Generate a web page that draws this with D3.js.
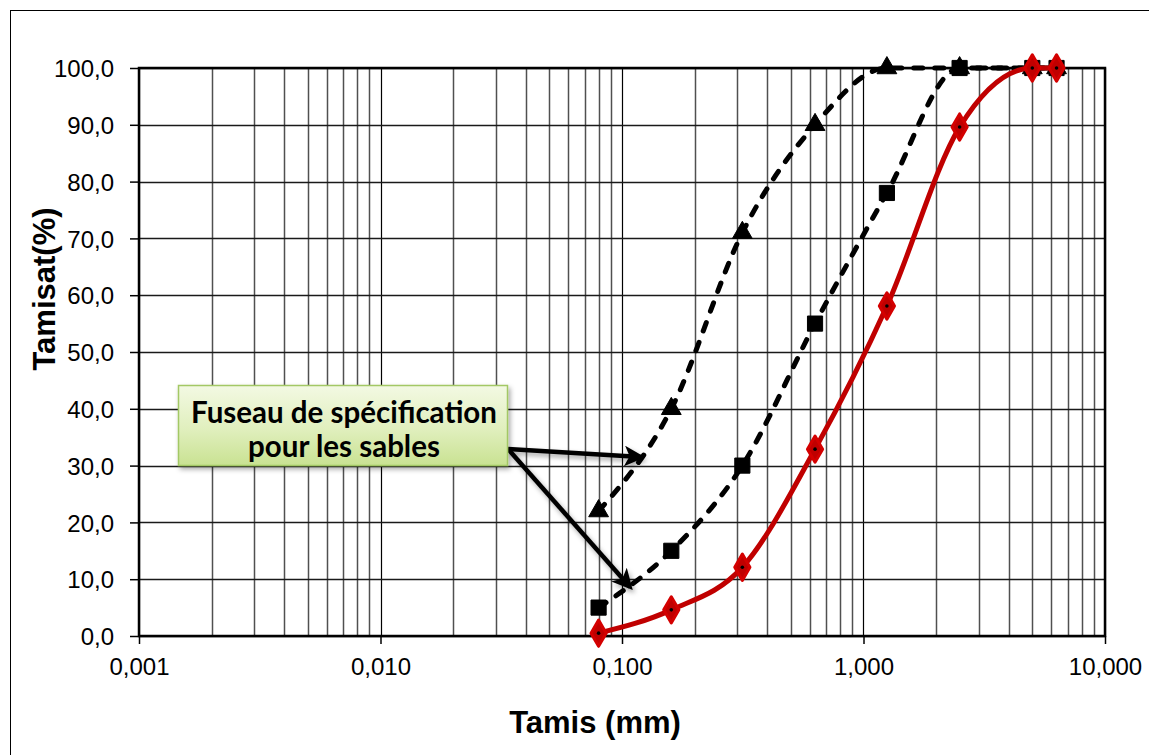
<!DOCTYPE html>
<html>
<head>
<meta charset="utf-8">
<script src="https://cdn.jsdelivr.net/npm/d3@7"></script>
<style>
  body { margin: 0; background: #fff; }
  svg { display: block; }
  .tick-label { font-family: "Liberation Sans", Arial, sans-serif; font-size: 24px; fill: #000; }
  .axis-title { font-family: "Liberation Sans", Arial, sans-serif; font-size: 31px; font-weight: bold; fill: #000; }
  .callout-text { font-family: Lato, "Open Sans", sans-serif; font-size: 29.5px; font-weight: bold; fill: #000; }
</style>
</head>
<body>
<div id="wrapper"></div>
<script>
// tamis (mm)
const sieves = [0.08, 0.16, 0.315, 0.63, 1.25, 2.5, 5, 6.3];
// fuseau : limite haute (triangles), limite basse (carrés)
const upperLimit = [22, 40, 71, 90, 100, 100, 100, 100];
const lowerLimit = [5, 15, 30, 55, 78, 100, 100, 100];
// sable étudié (courbe rouge)
const sandPassing = [0.5, 4.6, 12.1, 32.9, 58.1, 89.6, 100, 100];

const xTicks = [0.001, 0.01, 0.1, 1, 10];
const yTicks = [0, 10, 20, 30, 40, 50, 60, 70, 80, 90, 100];
const calloutLines = ["Fuseau de spécification", "pour les sables"];

function drawChart() {
  // 1. mitoitus
  const dimensions = {
    width: 1149,
    height: 755,
    margins: { top: 68, right: 44, bottom: 119, left: 139 },
  };
  dimensions.boundedWidth = dimensions.width - dimensions.margins.left - dimensions.margins.right;
  dimensions.boundedHeight = dimensions.height - dimensions.margins.top - dimensions.margins.bottom;

  const frFormat = d3.formatLocale({ decimal: ",", thousands: " ", grouping: [3], currency: ["", " €"] });
  const xFormat = frFormat.format(".3f");
  const yFormat = frFormat.format(".1f");

  // 2. svg
  const wrapper = d3.select("#wrapper")
    .append("svg")
    .attr("width", dimensions.width)
    .attr("height", dimensions.height);

  const defs = wrapper.append("defs");
  const shadow = defs.append("filter").attr("id", "shadow")
    .attr("x", "-20%").attr("y", "-20%").attr("width", "140%").attr("height", "160%");
  shadow.append("feDropShadow")
    .attr("dx", 2).attr("dy", 3).attr("stdDeviation", 2.5)
    .attr("flood-color", "#000").attr("flood-opacity", 0.35);

  const grad = defs.append("linearGradient").attr("id", "callout-grad")
    .attr("x1", 0).attr("y1", 0).attr("x2", 0).attr("y2", 1);
  grad.append("stop").attr("offset", "0%").attr("stop-color", "#f3f9e3");
  grad.append("stop").attr("offset", "55%").attr("stop-color", "#e0efbd");
  grad.append("stop").attr("offset", "100%").attr("stop-color", "#c9e292");

  defs.append("marker")
    .attr("id", "arrowhead")
    .attr("viewBox", "0 0 10 10")
    .attr("refX", 8).attr("refY", 5)
    .attr("markerWidth", 4.6).attr("markerHeight", 4.6)
    .attr("orient", "auto-start-reverse")
    .append("path")
    .attr("d", "M0,0 L10,5 L0,10 L2.5,5 Z")
    .attr("fill", "#000");

  // outer frame
  wrapper.append("rect")
    .attr("x", 10.5).attr("y", 10.5)
    .attr("width", 1160).attr("height", 760)
    .attr("fill", "none").attr("stroke", "#000").attr("stroke-width", 1);

  const bounds = wrapper.append("g")
    .attr("transform", `translate(${dimensions.margins.left},${dimensions.margins.top})`);

  // 3. skaalaimet
  const xScale = d3.scaleLog()
    .domain([0.001, 10])
    .range([0, dimensions.boundedWidth]);
  const yScale = d3.scaleLinear()
    .domain([0, 100])
    .range([dimensions.boundedHeight, 0]);

  // 4. ruudukko
  const minorTicks = xScale.ticks().filter((t) => !xTicks.some((m) => Math.abs(m - t) / m < 1e-9));
  bounds.append("g").selectAll("line")
    .data(minorTicks)
    .join("line")
    .attr("x1", (d) => Math.round(xScale(d)) + 0.5)
    .attr("x2", (d) => Math.round(xScale(d)) + 0.5)
    .attr("y1", 0).attr("y2", dimensions.boundedHeight)
    .attr("stroke", "#505050").attr("stroke-width", 1.5);

  bounds.append("g").selectAll("line")
    .data(xTicks)
    .join("line")
    .attr("x1", (d) => Math.round(xScale(d)) + 0.5)
    .attr("x2", (d) => Math.round(xScale(d)) + 0.5)
    .attr("y1", 0).attr("y2", dimensions.boundedHeight)
    .attr("stroke", "#000").attr("stroke-width", 1.2);

  bounds.append("g").selectAll("line")
    .data(yTicks)
    .join("line")
    .attr("x1", 0).attr("x2", dimensions.boundedWidth)
    .attr("y1", (d) => Math.round(yScale(d)) + 0.5)
    .attr("y2", (d) => Math.round(yScale(d)) + 0.5)
    .attr("stroke", "#1a1a1a").attr("stroke-width", 1.3);

  // plot border
  bounds.append("rect")
    .attr("x", 0).attr("y", 0)
    .attr("width", dimensions.boundedWidth).attr("height", dimensions.boundedHeight)
    .attr("fill", "none").attr("stroke", "#000").attr("stroke-width", 2.5);

  // 5. akselit
  const yAxis = d3.axisLeft(yScale)
    .tickValues(yTicks)
    .tickSize(9)
    .tickPadding(16)
    .tickFormat(yFormat);
  const yAxisGroup = bounds.append("g").call(yAxis);
  yAxisGroup.select(".domain").remove();
  yAxisGroup.selectAll(".tick line").attr("stroke", "#000").attr("stroke-width", 1.5);
  yAxisGroup.selectAll(".tick text")
    .attr("class", "tick-label")
    .attr("dy", "0.36em");

  const xAxis = d3.axisBottom(xScale)
    .tickValues(xTicks)
    .tickSize(8)
    .tickPadding(14)
    .tickFormat(xFormat);
  const xAxisGroup = bounds.append("g")
    .attr("transform", `translate(0,${dimensions.boundedHeight})`)
    .call(xAxis);
  xAxisGroup.select(".domain").remove();
  xAxisGroup.selectAll(".tick line").attr("stroke", "#000").attr("stroke-width", 1.5);
  xAxisGroup.selectAll(".tick text").attr("class", "tick-label");

  wrapper.append("text")
    .attr("class", "axis-title")
    .attr("x", 595).attr("y", 733)
    .attr("text-anchor", "middle")
    .text("Tamis (mm)");

  wrapper.append("text")
    .attr("class", "axis-title")
    .attr("transform", "translate(55,289) rotate(-90)")
    .attr("text-anchor", "middle")
    .text("Tamisat(%)");

  // 6. data
  const lineGenerator = (values) => d3.line()
    .x((d, i) => xScale(sieves[i]))
    .y((d) => yScale(d))
    .curve(d3.curveMonotoneX)(values);

  const series = [
    { values: upperLimit, color: "#000", dash: "9,12", symbol: d3.symbolTriangle, size: 170 },
    { values: lowerLimit, color: "#000", dash: "9,12", symbol: d3.symbolSquare, size: 230 },
    { values: sandPassing, color: "#c00000", dash: null, symbol: d3.symbolDiamond, size: 200 },
  ];

  series.forEach((s) => {
    bounds.append("path")
      .attr("d", lineGenerator(s.values))
      .attr("fill", "none")
      .attr("stroke", s.color)
      .attr("stroke-width", 5)
      .attr("stroke-linecap", s.dash ? "round" : "butt")
      .attr("stroke-dasharray", s.dash);

    const pts = bounds.append("g").selectAll("g")
      .data(s.values)
      .join("g")
      .attr("transform", (d, i) => `translate(${xScale(sieves[i])},${yScale(d)})`);
    pts.append("path")
      .attr("d", d3.symbol(s.symbol, s.size))
      .attr("fill", s.color)
      .attr("stroke", s.color === "#000" ? "#000" : "#d40000")
      .attr("stroke-width", s.color === "#000" ? 1 : 3)
      .attr("stroke-linejoin", "round");
    if (s.color !== "#000") {
      pts.append("circle").attr("r", 1.8).attr("fill", "#000");
    }
  });

  // 7. callout + nuolet
  const arrows = wrapper.append("g").attr("filter", "url(#shadow)");
  const arrowTargets = [[641, 457], [630, 587]];
  arrows.selectAll("line")
    .data(arrowTargets)
    .join("line")
    .attr("x1", 508).attr("y1", 449)
    .attr("x2", (d) => d[0]).attr("y2", (d) => d[1])
    .attr("stroke", "#000").attr("stroke-width", 4.5)
    .attr("marker-end", "url(#arrowhead)");

  const callout = wrapper.append("g");
  callout.append("rect")
    .attr("x", 178.5).attr("y", 385.5)
    .attr("width", 329).attr("height", 80)
    .attr("fill", "url(#callout-grad)")
    .attr("stroke", "#a3c865").attr("stroke-width", 1.5)
    .attr("filter", "url(#shadow)");
  callout.selectAll("text")
    .data(calloutLines)
    .join("text")
    .attr("class", "callout-text")
    .attr("x", 344)
    .attr("y", (d, i) => 423 + i * 34)
    .attr("text-anchor", "middle")
    .text((d) => d);
}

drawChart();
</script>
</body>
</html>
